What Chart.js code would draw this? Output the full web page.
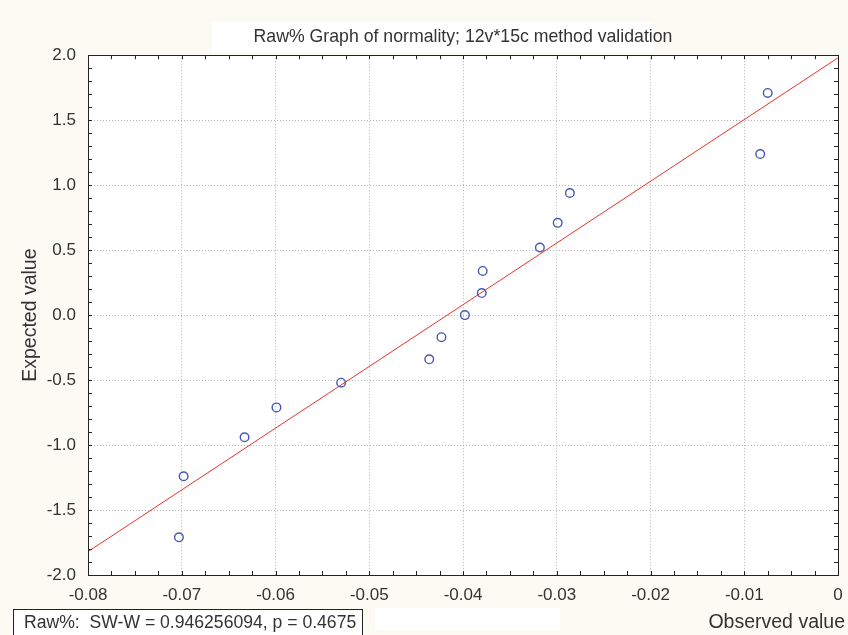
<!DOCTYPE html>
<html>
<head>
<meta charset="utf-8">
<title>Raw% Graph of normality</title>
<script src="https://cdn.jsdelivr.net/npm/chart.js@4.4.0/dist/chart.umd.min.js"></script>
<style>
  html, body { margin: 0; padding: 0; background: #fbfbf4; }
  #wrap { width: 848px; height: 635px; }
</style>
</head>
<body>
<div id="wrap"><canvas id="normChart" width="848" height="635"></canvas></div>
<script>
// values
const observed = [-0.0075, -0.0083, -0.0286, -0.0299, -0.0318, -0.0379, -0.0380, -0.0398,
                  -0.0423, -0.0436, -0.0530, -0.0599, -0.0633, -0.0698, -0.0703];
const expected = [1.71, 1.24, 0.94, 0.71, 0.52, 0.34, 0.17, 0.00,
                  -0.17, -0.34, -0.52, -0.71, -0.94, -1.24, -1.71];
const fitX = [-0.08, 0];
const fitY = [-1.82, 1.98];

const xTickValues = [-0.08, -0.07, -0.06, -0.05, -0.04, -0.03, -0.02, -0.01, 0];
const xTickLabels = ['-0.08', '-0.07', '-0.06', '-0.05', '-0.04', '-0.03', '-0.02', '-0.01', '0'];
const yTickValues = [-2, -1.5, -1, -0.5, 0, 0.5, 1, 1.5, 2];
const yTickLabels = ['-2.0', '-1.5', '-1.0', '-0.5', '0.0', '0.5', '1.0', '1.5', '2.0'];

const statsText = 'Raw%:  SW-W = 0.946256094, p = 0.4675';
const xTitle = 'Observed value';

const FONT = '"Liberation Sans", Arial, sans-serif';
const TEXT = '#333333';

const decor = {
  id: 'decor',
  beforeDraw(chart) {
    const ctx = chart.ctx;
    const a = chart.chartArea;
    ctx.save();
    ctx.fillStyle = '#fbfbf4';
    ctx.fillRect(0, 0, chart.width, chart.height);
    ctx.fillStyle = '#ffffff';
    ctx.fillRect(212, 22, 441, 30);
    ctx.fillRect(375, 608, 185, 22);
    ctx.fillRect(a.left, a.top, a.right - a.left, a.bottom - a.top);
    ctx.restore();
  },
  afterDraw(chart) {
    const ctx = chart.ctx;
    const a = chart.chartArea;
    const xs = chart.scales.x;
    const ys = chart.scales.y;
    ctx.save();
    // frame
    ctx.strokeStyle = '#222222';
    ctx.lineWidth = 1;
    ctx.strokeRect(Math.round(a.left) + 0.5, Math.round(a.top) + 0.5,
                   Math.round(a.right - a.left), Math.round(a.bottom - a.top));
    // small inside ticks
    ctx.beginPath();
    for (let i = 0; i <= 32; i++) {
      const px = Math.round(xs.getPixelForValue(-0.08 + i * 0.0025)) + 0.5;
      ctx.moveTo(px, a.bottom); ctx.lineTo(px, a.bottom - 4);
      ctx.moveTo(px, a.top); ctx.lineTo(px, a.top + 4);
    }
    for (let i = 0; i <= 40; i++) {
      const py = Math.round(ys.getPixelForValue(-2 + i * 0.1)) + 0.5;
      ctx.moveTo(a.left, py); ctx.lineTo(a.left + 4, py);
      ctx.moveTo(a.right, py); ctx.lineTo(a.right - 4, py);
    }
    ctx.stroke();
    // stats box
    ctx.fillStyle = '#ffffff';
    ctx.fillRect(13, 609, 349, 30);
    ctx.strokeStyle = '#222222';
    ctx.strokeRect(13.5, 609.5, 349, 30);
    ctx.fillStyle = TEXT;
    ctx.font = '17.6px ' + FONT;
    ctx.textBaseline = 'middle';
    ctx.textAlign = 'left';
    ctx.fillText(statsText, 24, 623);
    // x axis title, bottom right
    ctx.font = '19.5px ' + FONT;
    ctx.textAlign = 'right';
    ctx.fillText(xTitle, 845, 623);
    ctx.restore();
  }
};

const ctx = document.getElementById('normChart').getContext('2d');
new Chart(ctx, {
  type: 'scatter',
  data: {
    datasets: [
      {
        label: 'Raw%',
        data: observed.map((v, i) => ({ x: v, y: expected[i] })),
        pointStyle: 'circle',
        pointRadius: 4.3,
        pointBorderWidth: 1.4,
        borderColor: '#4658b4',
        backgroundColor: 'rgba(0,0,0,0)'
      },
      {
        type: 'line',
        label: 'fit',
        data: fitX.map((v, i) => ({ x: v, y: fitY[i] })),
        borderColor: '#e8332b',
        borderWidth: 1,
        pointRadius: 0,
        fill: false
      }
    ]
  },
  options: {
    responsive: false,
    animation: false,
    layout: { padding: { left: 0, right: 10, top: 0, bottom: 0 } },
    plugins: {
      legend: { display: false },
      tooltip: { enabled: false },
      title: {
        display: true,
        text: 'Raw% Graph of normality; 12v*15c method validation',
        color: TEXT,
        fullSize: false,
        font: { family: FONT, size: 17.7, weight: 'normal', lineHeight: 1.2 },
        padding: { top: 26, bottom: 8 }
      }
    },
    scales: {
      x: {
        type: 'linear',
        min: -0.08,
        max: 0,
        afterBuildTicks: s => { s.ticks = xTickValues.map(v => ({ value: v })); },
        afterFit: s => { s.height = 60; s.paddingRight = 0; },
        ticks: {
          color: TEXT,
          font: { family: FONT, size: 17 },
          padding: 10,
          maxRotation: 0,
          callback: (v, i) => xTickLabels[i]
        },
        grid: { color: '#b4b4b4', drawTicks: false, lineWidth: 1 },
        border: { display: false, dash: [1, 2] }
      },
      y: {
        type: 'linear',
        min: -2,
        max: 2,
        afterBuildTicks: s => { s.ticks = yTickValues.map(v => ({ value: v })); },
        afterFit: s => { s.width = 88; },
        ticks: {
          color: TEXT,
          font: { family: FONT, size: 17 },
          padding: 12,
          callback: (v, i) => yTickLabels[i]
        },
        grid: { color: '#b4b4b4', drawTicks: false, lineWidth: 1 },
        border: { display: false, dash: [1, 2] },
        title: {
          display: true,
          text: 'Expected value',
          color: TEXT,
          font: { family: FONT, size: 19.5 },
          padding: { top: 19, bottom: 0 }
        }
      }
    }
  },
  plugins: [decor]
});
</script>
</body>
</html>
